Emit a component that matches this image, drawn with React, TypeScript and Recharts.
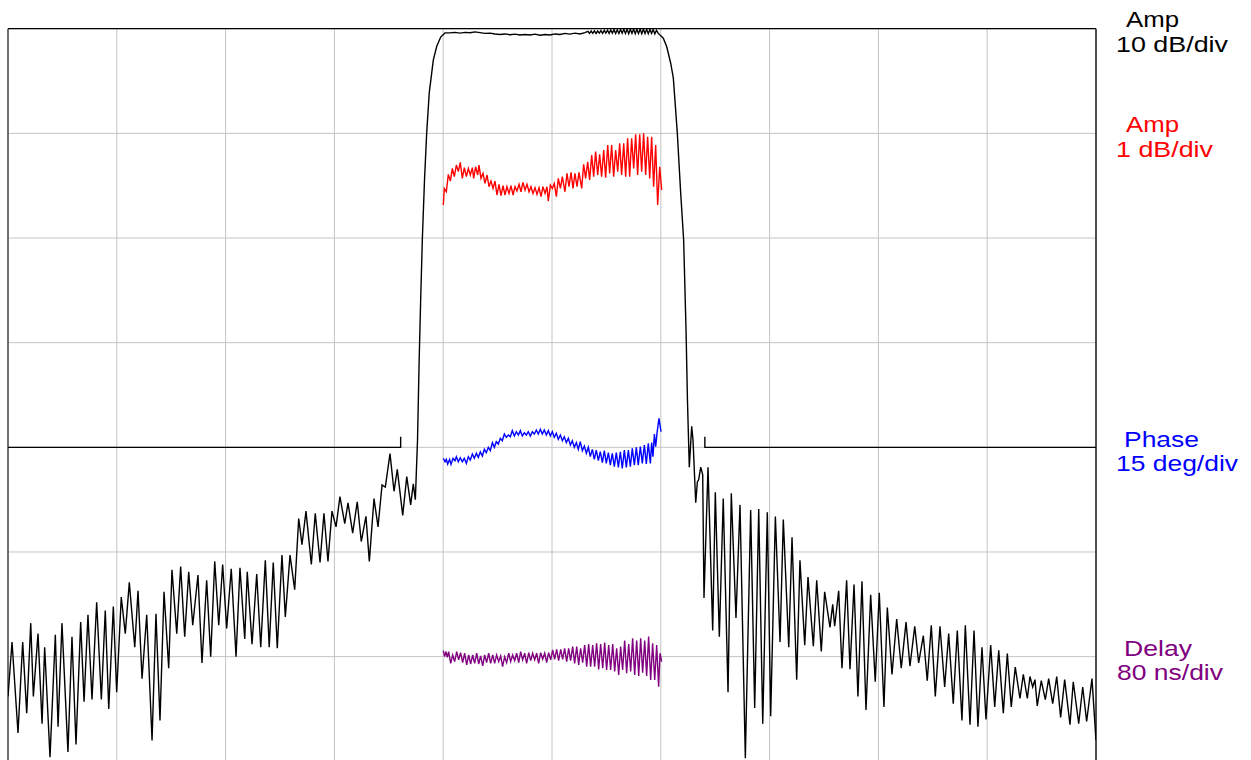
import React from "react";
import { LineChart, Line, XAxis, YAxis, CartesianGrid, ReferenceLine } from "recharts";

// Frequency in MHz (10 MHz/div), values in each trace's own unit
const freqTicks = [0, 10, 20, 30, 40, 50, 60, 70, 80, 90, 100];
const ampTicks = [-70, -60, -50, -40, -30, -20, -10, 0];

// Black: amplitude, 10 dB/div (dB)
const ampWide: [number, number][] = [
  [0, -63.8], [0.37, -58.6], [0.92, -67.3], [1.35, -58.6], [1.72, -65.4], [2.09, -56.8], [2.33, -63.8],
  [2.76, -57.8], [3.13, -66.4], [3.37, -59.1], [3.86, -69.6], [4.35, -57.9], [4.6, -66.7], [4.96, -56.8],
  [5.51, -69.1], [5.88, -58.1], [6.25, -68.4], [6.68, -56.7], [6.99, -64.3], [7.35, -56.0], [7.72, -64.1],
  [8.15, -54.8], [8.58, -64.1], [8.94, -55.6], [9.26, -65.0], [9.68, -55.2], [9.99, -63.4], [10.41, -54.3],
  [10.78, -57.8], [11.15, -52.9], [11.65, -59.1], [11.95, -53.7], [12.32, -62.1], [12.75, -56.0],
  [13.24, -68.0], [13.6, -55.9], [13.97, -66.1], [14.34, -53.8], [14.77, -61.1], [15.07, -51.7],
  [15.51, -57.8], [15.87, -51.4], [16.24, -58.1], [16.61, -51.9], [16.98, -57.0], [17.46, -52.2],
  [17.83, -60.6], [18.26, -52.7], [18.63, -60.0], [19.0, -50.9], [19.37, -57.0], [19.73, -51.2],
  [20.1, -57.3], [20.52, -51.6], [20.96, -60.0], [21.32, -51.5], [21.76, -58.3], [21.99, -51.9],
  [22.43, -58.8], [22.86, -52.1], [23.23, -59.1], [23.65, -50.8], [24.01, -59.1], [24.38, -51.0],
  [24.75, -59.2], [25.18, -50.3], [25.49, -56.2], [25.92, -50.3], [26.35, -53.6], [26.72, -46.8],
  [27.02, -49.3], [27.39, -46.1], [27.88, -51.2], [28.24, -46.3], [28.68, -51.0], [29.04, -46.3],
  [29.41, -50.9], [29.78, -46.1], [30.15, -47.6], [30.51, -44.7], [30.95, -47.3], [31.25, -45.3],
  [31.68, -48.2], [32.1, -45.2], [32.47, -49.0], [32.9, -46.6], [33.21, -50.9], [33.64, -44.9],
  [34.01, -47.6], [34.38, -43.6], [34.68, -43.8], [35.11, -40.6], [35.48, -44.2], [35.78, -42.1],
  [36.28, -46.5], [36.65, -42.8], [37.01, -45.5], [37.25, -43.5], [37.44, -45.0],
  [37.64, -39.3], [37.79, -31.7], [37.93, -25.9], [38.08, -20.2], [38.28, -14.5], [38.48, -10.0],
  [38.72, -6.1], [39.09, -3.0], [39.4, -1.7], [39.77, -0.8], [40.17, -0.4],
  [40.63, -0.4], [41.08, -0.35], [41.54, -0.42], [42.0, -0.35], [42.46, -0.38], [42.92, -0.3],
  [43.38, -0.38], [43.84, -0.45], [44.3, -0.42], [44.76, -0.5], [45.22, -0.55], [45.68, -0.5],
  [46.14, -0.58], [46.6, -0.52], [47.06, -0.6], [47.52, -0.55], [47.98, -0.6], [48.44, -0.52],
  [48.9, -0.62], [49.36, -0.55], [49.82, -0.6], [50.28, -0.5], [50.74, -0.55], [51.19, -0.45],
  [51.65, -0.52], [52.11, -0.42], [52.57, -0.5], [53.03, -0.38],
  [53.3, -0.25], [53.45, -0.45], [53.6, -0.22], [53.75, -0.44], [53.9, -0.2], [54.05, -0.45],
  [54.2, -0.22], [54.35, -0.42], [54.5, -0.18], [54.65, -0.44], [54.8, -0.16], [54.95, -0.43],
  [55.1, -0.15], [55.25, -0.45], [55.4, -0.12], [55.55, -0.42], [55.7, -0.1], [55.85, -0.45],
  [56.0, -0.1], [56.15, -0.46], [56.3, -0.08], [56.45, -0.44], [56.6, -0.06], [56.75, -0.45],
  [56.9, -0.05], [57.05, -0.47], [57.2, -0.05], [57.35, -0.45], [57.5, -0.04], [57.65, -0.47],
  [57.8, -0.05], [57.95, -0.46], [58.1, -0.04], [58.25, -0.48], [58.4, -0.05], [58.55, -0.46],
  [58.7, -0.06], [58.85, -0.48], [59.0, -0.05], [59.15, -0.45], [59.3, -0.08], [59.45, -0.5],
  [59.6, -0.15], [59.77, -0.45],
  [60.23, -0.9], [60.54, -1.7], [60.91, -3.3], [61.15, -4.7], [61.52, -10.0], [61.81, -15.4],
  [62.1, -20.2], [62.32, -28.8], [62.45, -35.5], [62.62, -41.9], [62.84, -38.0], [62.96, -39.3],
  [63.21, -45.3], [63.36, -43.3], [63.48, -43.1], [63.67, -41.9], [63.85, -42.6], [63.97, -54.4],
  [64.34, -41.9], [64.77, -57.5], [65.01, -44.3], [65.38, -58.1], [65.74, -44.9], [66.18, -63.4],
  [66.48, -44.4], [66.91, -56.3], [67.28, -45.5], [67.77, -69.7], [68.26, -46.0], [68.63, -64.9],
  [69.0, -45.9], [69.37, -66.4], [69.79, -46.2], [70.1, -65.7], [70.53, -46.6], [70.96, -58.6],
  [71.26, -46.9], [71.76, -59.1], [72.06, -48.6], [72.49, -62.2], [72.79, -50.8], [73.23, -58.9],
  [73.53, -52.4], [74.02, -59.0], [74.33, -52.7], [74.75, -59.5], [75.06, -53.8], [75.55, -57.2],
  [75.8, -55.0], [75.98, -57.1], [76.35, -53.7], [76.65, -61.1], [77.08, -52.7], [77.39, -61.2],
  [77.76, -53.1], [78.12, -63.8], [78.49, -52.8], [78.86, -65.1], [79.29, -54.1], [79.71, -62.4],
  [80.08, -53.9], [80.51, -64.8], [80.82, -55.3], [81.25, -61.7], [81.68, -56.4], [82.1, -61.1],
  [82.54, -56.7], [82.9, -60.9], [83.34, -57.1], [83.7, -60.6], [84.13, -58.0], [84.49, -62.3],
  [84.86, -57.0], [85.23, -63.8], [85.66, -57.1], [86.09, -62.9], [86.46, -57.8], [86.88, -64.5],
  [87.25, -57.5], [87.68, -66.1], [87.99, -57.0], [88.42, -66.5], [88.79, -57.5], [89.15, -66.7],
  [89.52, -59.1], [89.89, -66.0], [90.32, -58.9], [90.69, -64.8], [91.06, -59.4], [91.48, -65.4],
  [91.85, -59.7], [92.21, -64.8], [92.58, -61.0], [93.01, -64.0], [93.32, -61.7], [93.69, -64.0],
  [93.93, -61.9], [94.18, -62.9], [94.39, -62.2], [94.6, -64.7], [94.97, -62.3], [95.34, -64.1],
  [95.65, -62.1], [96.02, -64.5], [96.39, -61.9], [96.75, -65.8], [97.12, -62.2], [97.61, -66.5],
  [97.91, -62.4], [98.41, -66.4], [98.78, -62.9], [99.14, -66.2], [99.63, -62.1], [100, -68.0],
];

// Black: stopband mask (dB)
const maskLow: [number, number][] = [[0, -40], [36.09, -40], [36.09, -39]];
const maskHigh: [number, number][] = [[64.05, -39], [64.05, -40], [100, -40]];

// Red: passband amplitude, 1 dB/div (dB)
const ampFine: [number, number][] = [
  [40.01, -0.685], [40.1, -0.526], [40.29, -0.558], [40.47, -0.392], [40.66, -0.456], [40.84, -0.335],
  [41.02, -0.414], [41.21, -0.303], [41.39, -0.366], [41.57, -0.277], [41.76, -0.43], [41.94, -0.328],
  [42.13, -0.414], [42.31, -0.335], [42.49, -0.398], [42.68, -0.328], [42.8, -0.43], [42.98, -0.319],
  [43.17, -0.398], [43.29, -0.303], [43.47, -0.43], [43.66, -0.382], [43.84, -0.478], [44.03, -0.398],
  [44.21, -0.51], [44.39, -0.456], [44.58, -0.526], [44.76, -0.456], [44.94, -0.589], [45.13, -0.487],
  [45.31, -0.596], [45.5, -0.5], [45.68, -0.589], [45.86, -0.51], [46.05, -0.574], [46.23, -0.5],
  [46.42, -0.589], [46.6, -0.51], [46.78, -0.551], [46.97, -0.487], [47.15, -0.558], [47.33, -0.468],
  [47.52, -0.542], [47.7, -0.487], [47.89, -0.558], [48.07, -0.51], [48.25, -0.574], [48.44, -0.519],
  [48.62, -0.583], [48.81, -0.519], [48.99, -0.605], [49.17, -0.51], [49.36, -0.574], [49.54, -0.51],
  [49.66, -0.647], [49.85, -0.494], [50.03, -0.526], [50.21, -0.478], [50.4, -0.605], [50.58, -0.43],
  [50.77, -0.526], [50.95, -0.414], [51.19, -0.558], [51.38, -0.382], [51.56, -0.51], [51.75, -0.373],
  [51.93, -0.526], [52.11, -0.382], [52.3, -0.51], [52.48, -0.373], [52.73, -0.526], [52.91, -0.296],
  [53.09, -0.43], [53.28, -0.271], [53.46, -0.446], [53.65, -0.207], [53.83, -0.414], [54.01, -0.175],
  [54.2, -0.398], [54.38, -0.201], [54.56, -0.414], [54.75, -0.159], [54.93, -0.424], [55.12, -0.112],
  [55.3, -0.382], [55.48, -0.112], [55.67, -0.414], [55.85, -0.159], [56.04, -0.366], [56.22, -0.096],
  [56.4, -0.398], [56.59, -0.096], [56.77, -0.414], [56.95, -0.048], [57.14, -0.414], [57.32, -0.048],
  [57.51, -0.335], [57.69, -0.01], [57.87, -0.398], [58.06, -0.01], [58.24, -0.366], [58.42, 0.0],
  [58.61, -0.398], [58.79, -0.032], [58.98, -0.43], [59.16, -0.032], [59.34, -0.51], [59.53, -0.112],
  [59.71, -0.685], [59.9, -0.319], [60.08, -0.542],
];

// Blue: phase deviation, 15 deg/div (deg)
const phase: [number, number][] = [
  [40.01, -1.58], [40.17, -2.06], [40.29, -1.72], [40.41, -2.39], [40.59, -1.72], [40.72, -2.44],
  [40.9, -1.58], [41.08, -1.92], [41.21, -1.34], [41.39, -2.06], [41.57, -1.49], [41.76, -2.06],
  [41.94, -1.58], [42.13, -2.3], [42.31, -1.34], [42.49, -1.82], [42.68, -0.96], [42.86, -1.58],
  [43.05, -0.86], [43.23, -1.44], [43.41, -0.63], [43.6, -1.25], [43.78, -0.29], [43.96, -0.77],
  [44.15, 0.0], [44.33, -0.48], [44.52, 0.67], [44.7, 0.0], [44.88, 0.81], [45.07, 0.47],
  [45.25, 1.29], [45.43, 0.95], [45.62, 1.91], [45.8, 1.43], [45.99, 1.76], [46.17, 1.52],
  [46.35, 2.39], [46.54, 1.62], [46.72, 2.24], [46.91, 1.76], [47.09, 2.39], [47.27, 1.62],
  [47.46, 2.1], [47.64, 1.76], [47.82, 2.24], [48.01, 1.62], [48.19, 2.24], [48.38, 1.91],
  [48.56, 2.48], [48.74, 1.91], [48.93, 2.58], [49.11, 1.91], [49.29, 2.48], [49.48, 1.76],
  [49.66, 2.39], [49.85, 1.62], [50.03, 2.24], [50.21, 1.43], [50.4, 2.0], [50.58, 1.14],
  [50.77, 1.76], [50.95, 0.95], [51.13, 1.52], [51.32, 0.67], [51.5, 1.29], [51.69, 0.33],
  [51.87, 0.95], [52.05, 0.0], [52.24, 0.67], [52.42, -0.29], [52.6, 0.81], [52.79, -0.48],
  [52.97, 0.19], [53.16, -0.86], [53.34, 0.0], [53.52, -1.34], [53.71, -0.29], [53.89, -1.72],
  [54.07, -0.39], [54.26, -1.92], [54.44, -0.63], [54.63, -2.2], [54.81, -0.48], [54.99, -2.3],
  [55.18, -0.77], [55.36, -2.54], [55.54, -0.86], [55.73, -2.78], [55.91, -0.77], [56.1, -2.87],
  [56.28, -0.63], [56.46, -3.01], [56.65, -0.39], [56.83, -2.87], [57.02, -0.39], [57.2, -2.78],
  [57.38, -0.15], [57.57, -2.54], [57.75, 0.0], [57.93, -2.54], [58.12, 0.09], [58.3, -2.3],
  [58.49, 0.33], [58.67, -2.39], [58.85, 0.57], [59.04, -2.3], [59.16, 0.67], [59.28, -1.34],
  [59.41, 1.91], [59.53, 0.09], [59.65, 2.0], [59.83, 4.15], [60.02, 2.24],
];

// Purple: group delay deviation, 80 ns/div (ns)
const delay: [number, number][] = [
  [40.01, 4.6], [40.13, 0.0], [40.26, 3.9], [40.38, -0.5], [40.5, 3.9], [40.69, -5.1], [40.87, 1.3],
  [41.05, -3.8], [41.24, 3.9], [41.42, -2.5], [41.6, 3.1], [41.79, -4.6], [41.97, 2.6], [42.16, -6.3],
  [42.34, 1.3], [42.52, -5.6], [42.71, 1.3], [42.89, -5.1], [43.08, 2.6], [43.26, -5.6], [43.44, 0.5],
  [43.63, -7.1], [43.81, 1.3], [43.99, -4.6], [44.18, 2.6], [44.36, -5.1], [44.55, 1.3], [44.73, -5.1],
  [44.91, 1.3], [45.1, -3.8], [45.28, 0.5], [45.46, -7.6], [45.65, 0.0], [45.83, -4.6], [46.02, 2.6],
  [46.2, -3.8], [46.38, 1.3], [46.57, -3.0], [46.75, 2.6], [46.94, -4.6], [47.12, 3.9], [47.3, -2.5],
  [47.49, 2.6], [47.67, -5.1], [47.86, 3.1], [48.04, -3.0], [48.22, 2.6], [48.41, -2.5], [48.59, 2.6],
  [48.77, -5.1], [48.96, 3.1], [49.14, -2.0], [49.33, 2.6], [49.51, -4.6], [49.69, 3.1], [49.88, -2.5],
  [50.06, 5.1], [50.24, -2.0], [50.43, 5.6], [50.61, -3.0], [50.8, 5.6], [50.98, -2.0], [51.16, 6.4],
  [51.35, -3.8], [51.53, 6.4], [51.71, -3.0], [51.9, 7.7], [52.08, -5.1], [52.27, 7.7], [52.45, -6.3],
  [52.63, 6.4], [52.82, -4.6], [53.0, 8.9], [53.19, -7.6], [53.37, 9.7], [53.55, -7.6], [53.74, 8.9],
  [53.92, -7.6], [54.1, 10.2], [54.29, -9.7], [54.47, 9.7], [54.66, -8.9], [54.84, 10.7], [55.02, -10.2],
  [55.21, 8.9], [55.39, -10.2], [55.58, 9.7], [55.76, -11.4], [55.94, 6.4], [56.13, -14.0], [56.31, 7.7],
  [56.49, -10.2], [56.68, 12.3], [56.86, -12.7], [57.05, 9.7], [57.23, -11.4], [57.41, 14.0],
  [57.6, -14.0], [57.78, 12.3], [57.97, -14.7], [58.15, 14.0], [58.33, -12.2], [58.52, 12.3],
  [58.7, -14.7], [58.88, 15.3], [59.07, -17.8], [59.25, 10.2], [59.44, -17.8], [59.62, 8.9],
  [59.8, -22.9], [59.93, 2.6], [60.08, -3.8],
];

const pts = (arr: [number, number][]) => arr.map(([x, y]) => ({ x, y }));

const labels = [
  { text: "Amp", x: 1126, y: 27, len: 53, color: "#000000" },
  { text: "10 dB/div", x: 1116, y: 52, len: 112, color: "#000000" },
  { text: "Amp", x: 1126, y: 132, len: 53, color: "#ff0000" },
  { text: "1 dB/div", x: 1116, y: 157, len: 97, color: "#ff0000" },
  { text: "Phase", x: 1124, y: 447, len: 75, color: "#0000ff" },
  { text: "15 deg/div", x: 1116, y: 471, len: 122, color: "#0000ff" },
  { text: "Delay", x: 1124, y: 656, len: 68, color: "#800080" },
  { text: "80 ns/div", x: 1117, y: 680, len: 106, color: "#800080" },
];

export default function App() {
  return (
    <div style={{ position: "absolute", left: 0, top: 0, width: 1251, height: 760, overflow: "hidden", background: "#fff" }}>
      <LineChart width={1251} height={770} margin={{ top: 28.7, right: 155, bottom: 8.7, left: 8 }}>
        <XAxis type="number" dataKey="x" xAxisId="f" domain={[0, 100]} ticks={freqTicks} hide allowDataOverflow />
        <YAxis yAxisId="amp" type="number" domain={[-70, 0]} ticks={ampTicks} hide allowDataOverflow />
        <YAxis yAxisId="red" type="number" domain={[-6, 1]} hide allowDataOverflow />
        <YAxis yAxisId="phase" type="number" domain={[-45, 60]} hide allowDataOverflow />
        <YAxis yAxisId="delay" type="number" domain={[-80, 480]} hide allowDataOverflow />
        <CartesianGrid xAxisId="f" yAxisId="amp" stroke="#c4c4c4" strokeWidth={1} />
        <ReferenceLine xAxisId="f" yAxisId="amp" x={0} stroke="#333" strokeWidth={1.3} />
        <ReferenceLine xAxisId="f" yAxisId="amp" x={100} stroke="#000" strokeWidth={1.3} />
        <ReferenceLine xAxisId="f" yAxisId="amp" y={0} stroke="#000" strokeWidth={1.3} />
        <Line xAxisId="f" yAxisId="amp" data={pts(maskLow)} dataKey="y" stroke="#000" strokeWidth={1.4} dot={false} isAnimationActive={false} type="linear" />
        <Line xAxisId="f" yAxisId="amp" data={pts(maskHigh)} dataKey="y" stroke="#000" strokeWidth={1.4} dot={false} isAnimationActive={false} type="linear" />
        <Line xAxisId="f" yAxisId="amp" data={pts(ampWide)} dataKey="y" stroke="#000" strokeWidth={1.4} dot={false} isAnimationActive={false} type="linear" />
        <Line xAxisId="f" yAxisId="red" data={pts(ampFine)} dataKey="y" stroke="#ff0000" strokeWidth={1.4} dot={false} isAnimationActive={false} type="linear" />
        <Line xAxisId="f" yAxisId="phase" data={pts(phase)} dataKey="y" stroke="#0000ff" strokeWidth={1.4} dot={false} isAnimationActive={false} type="linear" />
        <Line xAxisId="f" yAxisId="delay" data={pts(delay)} dataKey="y" stroke="#800080" strokeWidth={1.4} dot={false} isAnimationActive={false} type="linear" />
      </LineChart>
      <svg width={1251} height={760} style={{ position: "absolute", left: 0, top: 0, pointerEvents: "none" }}>
        {labels.map((l, i) => (
          <text key={i} x={l.x} y={l.y} fill={l.color} fontFamily="'Liberation Sans', Arial, sans-serif" fontSize={22.5} textLength={l.len} lengthAdjust="spacingAndGlyphs">
            {l.text}
          </text>
        ))}
      </svg>
    </div>
  );
}
